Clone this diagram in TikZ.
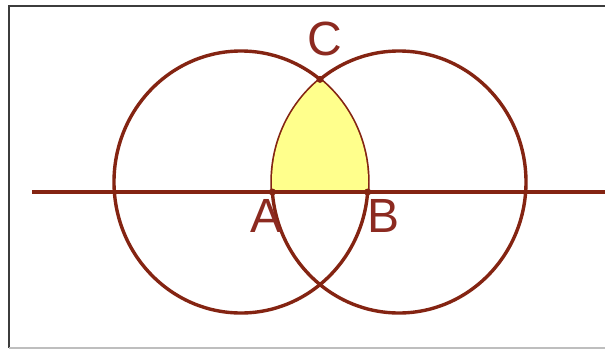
\documentclass[tikz,border=0pt]{standalone}
\usepackage{fontspec}
\setmainfont{Liberation Sans}
\begin{document}
\begin{tikzpicture}[x=1pt,y=-1pt,
  geo/.style={draw=brn,line width=3.4pt},
  lbl/.style={text=lbc,inner sep=0pt,font=\fontsize{48}{48}\selectfont},
  pt/.style={fill=brn,draw=none}]
\definecolor{brn}{RGB}{132,36,18}
\definecolor{lbc}{RGB}{140,42,32}
\definecolor{lens}{RGB}{255,255,140}
\definecolor{frm}{RGB}{60,60,60}
\definecolor{frmb}{RGB}{190,190,190}
\useasboundingbox (0,0) rectangle (605,349);
\fill[white] (0,0) rectangle (605,349);
% frame
\coordinate (f1) at (9,6);
\coordinate (f2) at (605,6);
\coordinate (f3) at (9,348);
\coordinate (f4) at (605,348);
\draw[frm,line width=2pt] (f2) -- (f1) -- (f3);
\draw[frmb,line width=1.5pt] (f3) -- (f4);
% centres and points
\coordinate (O1) at (241,182);
\coordinate (O2) at (399,182);
\coordinate (A) at (272.4,192);
\coordinate (B) at (367.6,192);
\coordinate (C) at (320,79.4);
\coordinate (L1) at (32,192);
\coordinate (L2) at (605,192);
% circles
\draw[geo] (O1) ellipse [x radius=127, y radius=131];
\draw[geo] (O2) ellipse [x radius=127, y radius=131];
% lens fill
\begin{scope}
  \clip (O1) ellipse [x radius=127, y radius=131];
  \clip (O2) ellipse [x radius=127, y radius=131];
  \fill[lens] (0,0) rectangle (605,192);
\end{scope}
% line
\draw[geo] (L1) -- (L2);
% points
\fill[pt] (A) circle (3.5);
\fill[pt] (B) circle (3.5);
\fill[pt] (C) circle (3.5);
% labels
\node[lbl] (labA) at (267,215.5) {A};
\node[lbl] (labB) at (383.5,215.5) {B};
\node[lbl] (labC) at (325,38.5) {C};
\end{tikzpicture}
\end{document}
